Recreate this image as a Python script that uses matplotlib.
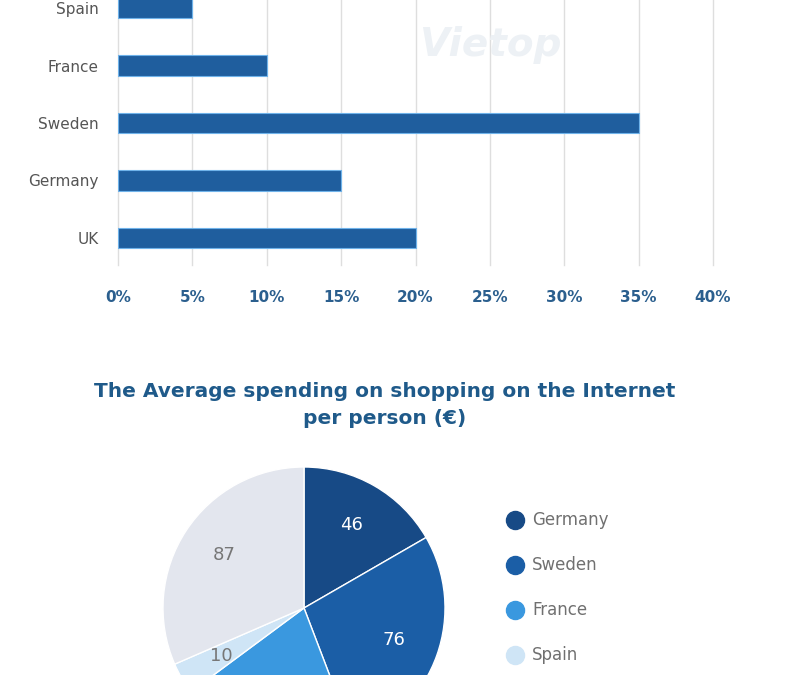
import matplotlib.pyplot as plt
from matplotlib.lines import Line2D

# bar chart data (top part, cropped in reference)
countries = ["UK", "Germany", "Sweden", "France", "Spain"]
shares = [20, 15, 35, 10, 5]
xticks = [0, 5, 10, 15, 20, 25, 30, 35, 40]
xticklabels = ["0%", "5%", "10%", "15%", "20%", "25%", "30%", "35%", "40%"]

# pie chart data
pie_countries = ["Germany", "Sweden", "France", "Spain", "UK"]
spending = [46, 76, 57, 10, 87]
pie_colors = ["#174a86", "#1b5ea6", "#3a98df", "#cfe5f6", "#e3e6ee"]
label_colors = ["white", "white", "white", "#777777", "#777777"]

pie_title = "The Average spending on shopping on the Internet\nper person (\u20ac)"

W, H = 793, 675
fig = plt.figure(figsize=(W / 100, H / 100), dpi=100)

# ---- bar chart
ax = fig.add_axes([118 / W, 1 - 265 / H, 595 / W, 265 / H])
ypos = list(range(len(countries)))
ax.barh(ypos, shares, height=0.35, color="#1f5e9e", edgecolor="#6fb3ea", linewidth=0.8, zorder=3)
ax.set_xlim(0, 40)
ax.set_ylim(-0.47, 4.14)
ax.set_xticks(xticks)
ax.set_xticklabels(xticklabels, fontsize=11, fontweight="bold", color="#2b5f8e")
ax.set_yticks(ypos)
ax.set_yticklabels(countries, fontsize=11, color="#555555")
ax.tick_params(axis="x", length=0, pad=18)
ax.tick_params(axis="y", length=0, pad=14)
ax.grid(axis="x", color="#dedede", linewidth=1.0, zorder=0)
for gl in ax.xaxis.get_gridlines():
    gl.set_clip_on(False)
for s in ax.spines.values():
    s.set_visible(False)

# watermark
fig.text(490 / W, 1 - 45 / H, "Vietop", fontsize=28, fontstyle="italic", fontweight="bold",
         color="#edf1f5", ha="center", va="center", zorder=0)

# ---- pie title
fig.text(385 / W, 1 - 405 / H, pie_title, fontsize=14.5, fontweight="bold", color="#1f5a8a",
         ha="center", va="center", linespacing=1.5)

# ---- pie chart
r = 141
pax = fig.add_axes([(304 - r) / W, 1 - (608 + r) / H, 2 * r / W, 2 * r / H])
wedges, texts = pax.pie(spending, colors=pie_colors, startangle=90, counterclock=False,
                        labels=[str(v) for v in spending], labeldistance=0.68,
                        wedgeprops=dict(edgecolor="white", linewidth=1))
for t, c in zip(texts, label_colors):
    t.set_color(c)
    t.set_fontsize(13)
    t.set_ha("center")
    t.set_va("center")
pax.set_xlim(-1, 1)
pax.set_ylim(-1, 1)

handles = [Line2D([], [], marker="o", linestyle="", markersize=13, color=c) for c in pie_colors]
fig.legend(handles, pie_countries, loc="upper left", bbox_to_anchor=(497 / W, 1 - 503 / H),
           frameon=False, fontsize=12, labelcolor="#707070", labelspacing=1.62,
           handletextpad=0.4, borderpad=0, handlelength=1.2)

fig.savefig("out.png", dpi=100)
